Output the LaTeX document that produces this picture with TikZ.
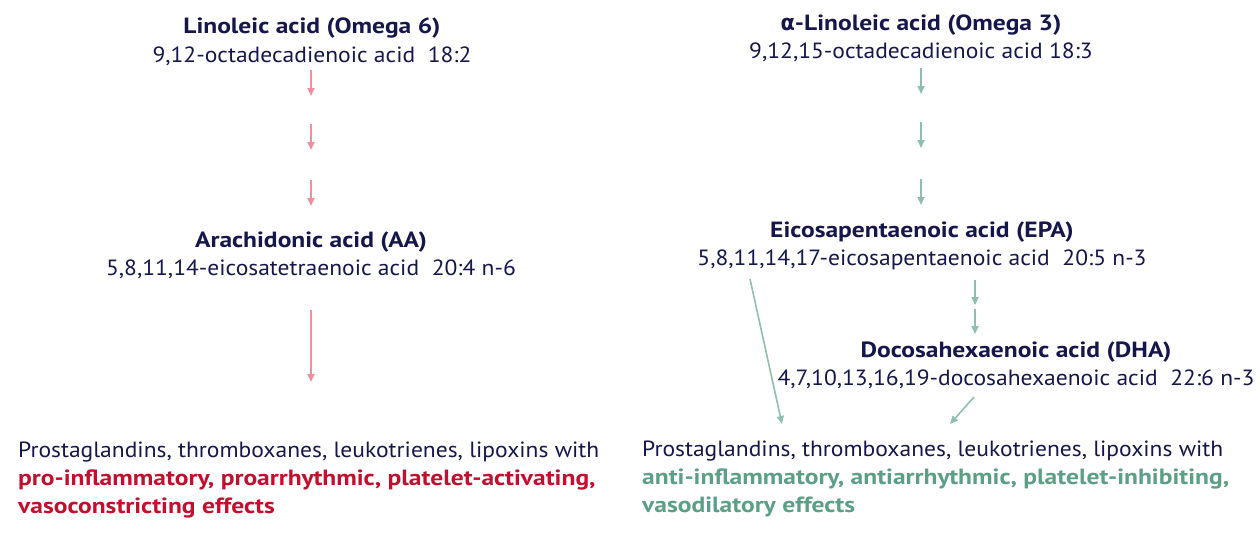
\documentclass[tikz,border=0pt]{standalone}
\usepackage{fontspec}
\setmainfont{PT Sans}[FakeStretch=1.07, BoldFeatures={FakeStretch=1.16}]
\newfontfamily\grk{DejaVu Sans}[FakeStretch=0.95]
\usetikzlibrary{arrows.meta}
\definecolor{navy}{HTML}{15164A}
\definecolor{redtxt}{HTML}{C20F2E}
\definecolor{greentxt}{HTML}{5B9F86}
\definecolor{pinkarr}{HTML}{F28CA1}
\definecolor{greenarr}{HTML}{8DBFAC}
\begin{document}
\begin{tikzpicture}[x=1pt,y=-1pt,
  txt/.style={inner sep=0pt, font=\fontsize{22}{28}\selectfont, text=navy, anchor=base},
  ttl/.style={txt, font=\fontsize{22}{28}\selectfont\bfseries},
  outl/.style={txt, anchor=base west},
  redl/.style={outl, text=redtxt, font=\fontsize{22}{28}\selectfont\bfseries},
  grnl/.style={outl, text=greentxt, font=\fontsize{22}{28}\selectfont\bfseries},
  parr/.style={draw=pinkarr, line width=1.6pt, -{Triangle[length=8pt,width=7pt]}},
  garr/.style={draw=greenarr, line width=1.6pt, -{Triangle[length=8pt,width=7pt]}}]
\useasboundingbox (0,0) rectangle (1260,539);
% left column
\node[ttl] (la) at (312,33) {Linoleic acid (Omega 6)};
\node[txt] (laf) at (312,62) {9,12-octadecadienoic acid\ \ 18:2};
\node[ttl] (aa) at (311,247) {Arachidonic acid (AA)};
\node[txt] (aaf) at (311,275) {5,8,11,14-eicosatetraenoic acid\ \ 20:4 n-6};
\node[outl] (lo1) at (18,457) {Prostaglandins, thromboxanes, leukotrienes, lipoxins with};
\node[redl] (lo2) at (18,485) {pro-inflammatory, proarrhythmic, platelet-activating,};
\node[redl] (lo3) at (18,513) {vasoconstricting effects};
% right column
\node[ttl] (ala) at (921,30) {{\grk\bfseries α}-Linoleic acid (Omega 3)};
\node[txt] (alaf) at (921,58) {9,12,15-octadecadienoic acid 18:3};
\node[ttl] (epa) at (922,237) {Eicosapentaenoic acid (EPA)};
\node[txt] (epaf) at (922,265) {5,8,11,14,17-eicosapentaenoic acid\ \ 20:5 n-3};
\node[ttl] (dha) at (1016,357) {Docosahexaenoic acid (DHA)};
\node[txt] (dhaf) at (1016,385) {4,7,10,13,16,19-docosahexaenoic acid\ \ 22:6 n-3};
\node[outl] (ro1) at (642,456) {Prostaglandins, thromboxanes, leukotrienes, lipoxins with};
\node[grnl] (ro2) at (642,484) {anti-inflammatory, antiarrhythmic, platelet-inhibiting,};
\node[grnl] (ro3) at (642,512) {vasodilatory effects};
% arrow end points
\coordinate (l1a) at (311,70);  \coordinate (l1b) at (311,96);
\coordinate (l2a) at (311,124); \coordinate (l2b) at (311,150);
\coordinate (l3a) at (311,180); \coordinate (l3b) at (311,206);
\coordinate (l4a) at (311,310); \coordinate (l4b) at (311,382);
\coordinate (r1a) at (921,68);  \coordinate (r1b) at (921,94);
\coordinate (r2a) at (921,122); \coordinate (r2b) at (921,148);
\coordinate (r3a) at (921,179); \coordinate (r3b) at (921,205);
\coordinate (e1a) at (975,280); \coordinate (e1b) at (975,305);
\coordinate (e2a) at (975,309); \coordinate (e2b) at (975,334);
\coordinate (d1a) at (750,279); \coordinate (d1b) at (782,424);
\coordinate (d2a) at (974,397); \coordinate (d2b) at (950,424);
\draw[parr] (l1a) -- (l1b);
\draw[parr] (l2a) -- (l2b);
\draw[parr] (l3a) -- (l3b);
\draw[parr] (l4a) -- (l4b);
\draw[garr] (r1a) -- (r1b);
\draw[garr] (r2a) -- (r2b);
\draw[garr] (r3a) -- (r3b);
\draw[garr] (e1a) -- (e1b);
\draw[garr] (e2a) -- (e2b);
\draw[garr] (d1a) -- (d1b);
\draw[garr] (d2a) -- (d2b);
\end{tikzpicture}
\end{document}
